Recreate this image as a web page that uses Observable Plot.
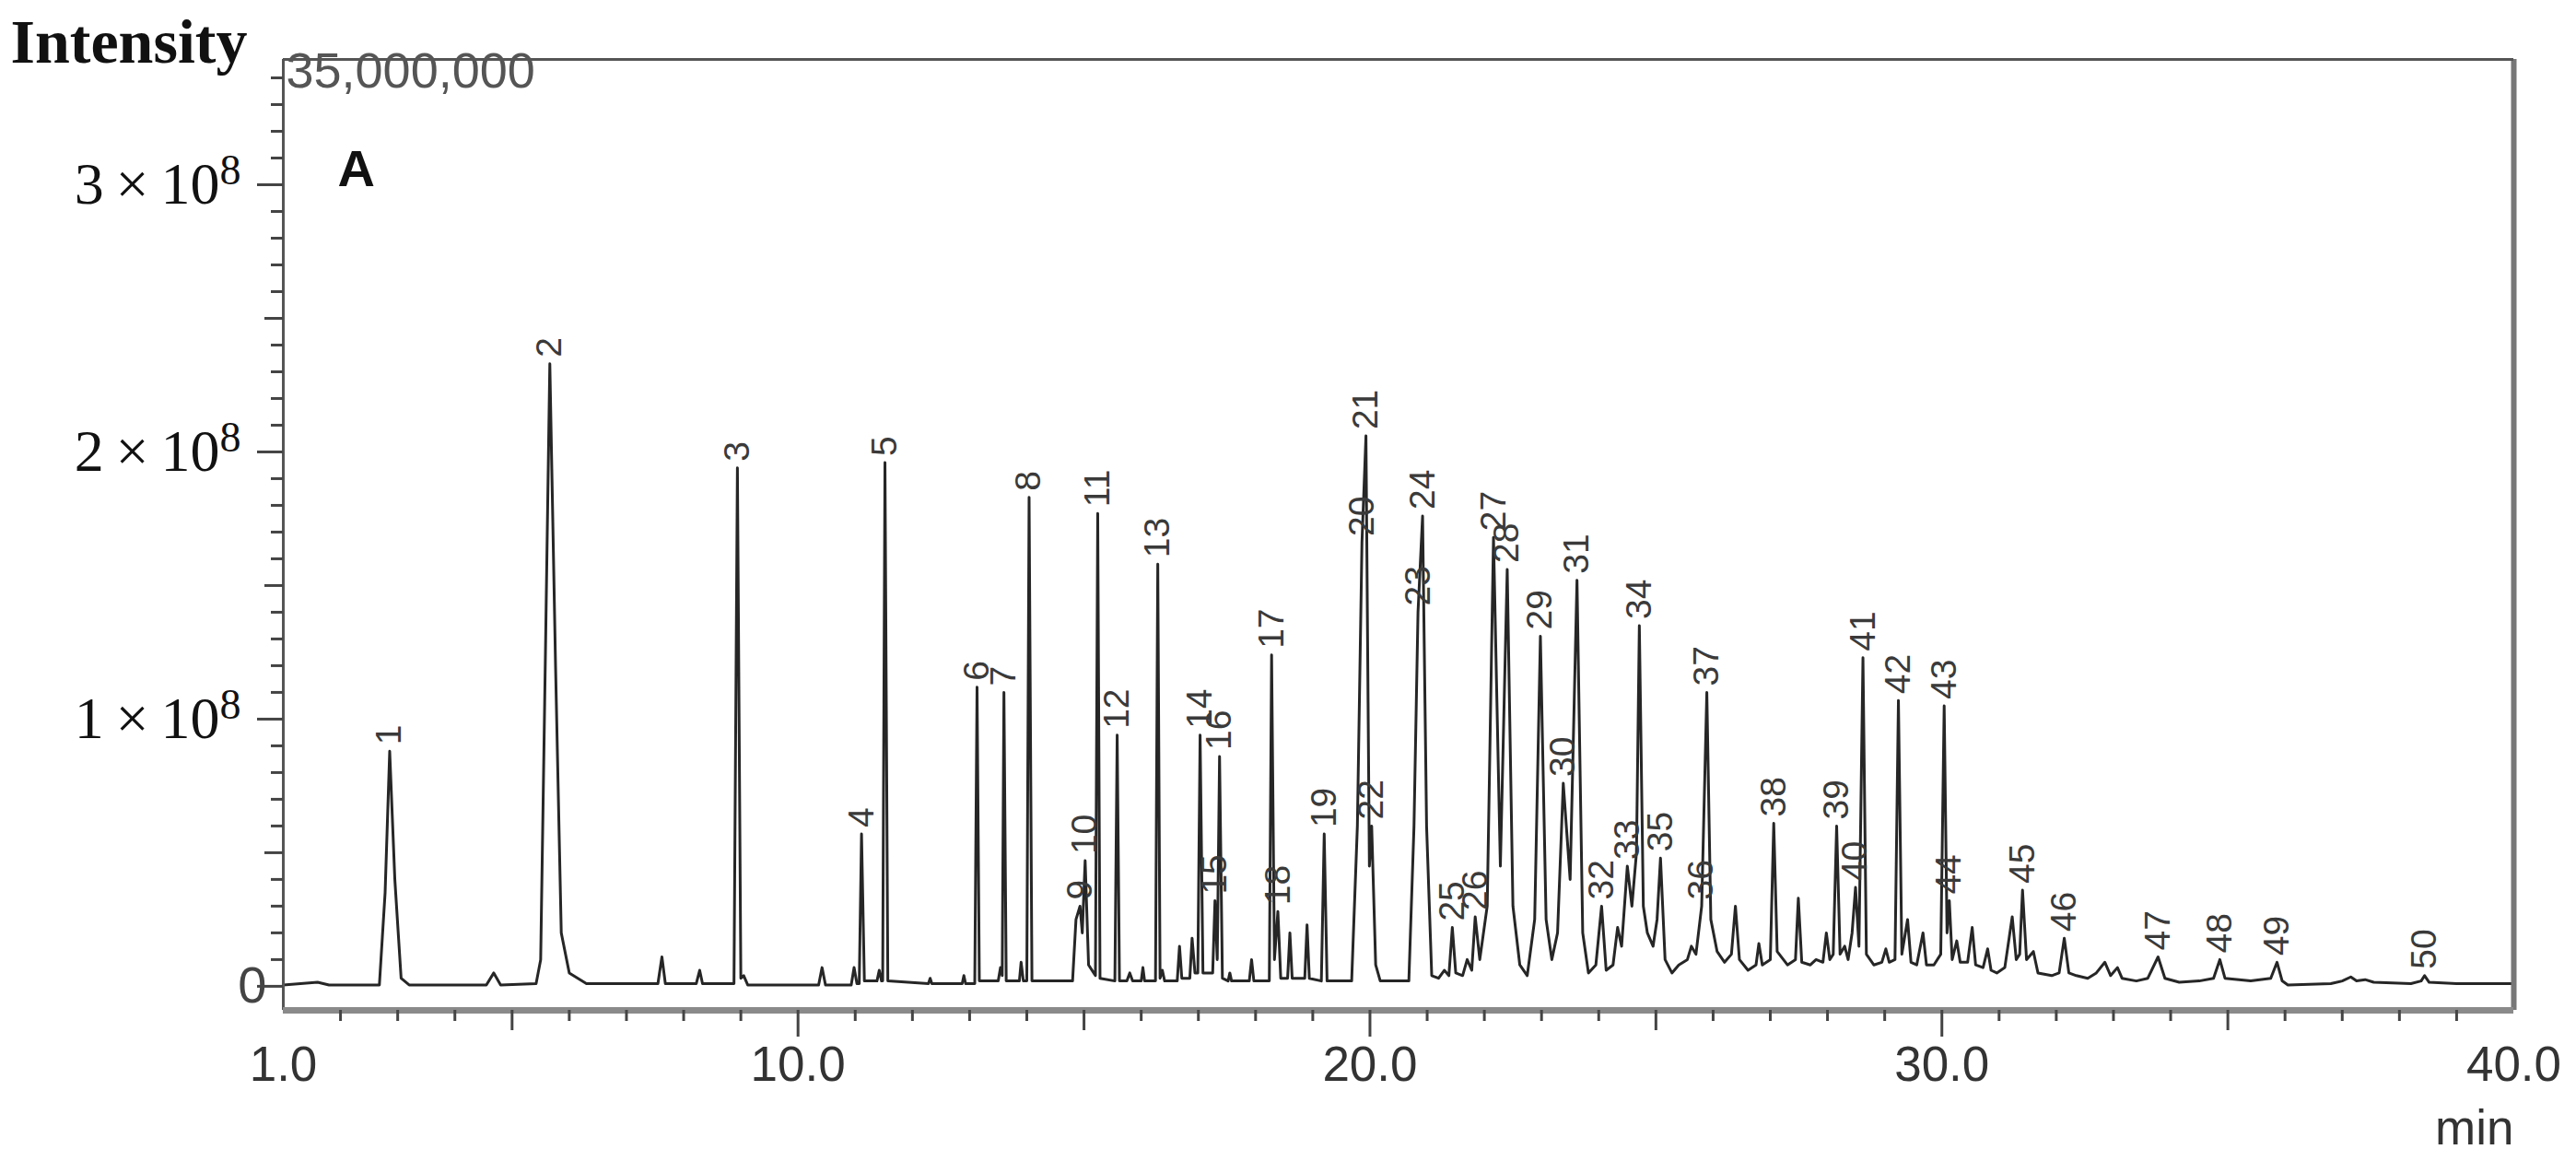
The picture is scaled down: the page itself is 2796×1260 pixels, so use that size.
<!DOCTYPE html>
<html>
<head>
<meta charset="utf-8">
<script src="https://cdn.jsdelivr.net/npm/d3@7"></script>
<script src="https://cdn.jsdelivr.net/npm/@observablehq/plot@0.6"></script>
<style>
  html, body { margin: 0; padding: 0; background: #fff; }
  #chart { width: 2796px; height: 1260px; }
</style>
</head>
<body>
<div id="chart"></div>
<script>
// ---- chromatogram trace (retention time in min, intensity in units of 10^8) ----
const traceTime = [
  1.00, 1.30, 1.60, 1.80, 2.68, 2.78, 2.86, 2.95, 3.06, 3.20,
  4.55, 4.68, 4.80, 5.42, 5.50, 5.58, 5.66, 5.76, 5.86, 6.00, 6.30,
  7.55, 7.62, 7.68, 8.22, 8.28, 8.33, 8.88, 8.94, 9.00, 9.05, 9.12,
  10.36, 10.42, 10.48, 10.93, 10.98, 11.03, 11.07, 11.11, 11.16,
  11.38, 11.42, 11.46, 11.48, 11.52, 11.57, 12.28, 12.31, 12.34,
  12.87, 12.90, 12.93, 13.09, 13.13, 13.17, 13.50, 13.54, 13.57, 13.60, 13.64,
  13.87, 13.90, 13.94, 14.00, 14.04, 14.09,
  14.80, 14.86, 14.93, 14.97, 15.02, 15.08, 15.17, 15.20, 15.24, 15.28,
  15.54, 15.58, 15.62, 15.75, 15.80, 15.85, 16.00, 16.03, 16.06,
  16.25, 16.29, 16.33, 16.37, 16.41, 16.63, 16.67, 16.71,
  16.85, 16.89, 16.94, 16.99, 17.03, 17.08,
  17.25, 17.29, 17.33, 17.37, 17.42, 17.52, 17.55, 17.58,
  17.89, 17.93, 17.97, 18.24, 18.28, 18.33, 18.39, 18.44,
  18.56, 18.60, 18.64, 18.86, 18.90, 18.94, 19.15, 19.20, 19.25,
  19.68, 19.78, 19.86, 19.93, 19.99, 20.03, 20.10, 20.18,
  20.68, 20.77, 20.84, 20.92, 20.99, 21.08,
  21.20, 21.30, 21.38, 21.44, 21.50, 21.62, 21.70, 21.78, 21.84, 21.92,
  22.05, 22.16, 22.28, 22.40, 22.50, 22.62,
  22.75, 22.88, 22.98, 23.08, 23.18, 23.28, 23.38, 23.50, 23.62, 23.72, 23.82,
  23.95, 24.05, 24.13, 24.25, 24.33, 24.40, 24.50, 24.58, 24.66, 24.71, 24.78,
  24.85, 24.95, 25.02, 25.08, 25.16, 25.28,
  25.40, 25.55, 25.62, 25.70, 25.80, 25.89, 25.96, 26.07, 26.20, 26.32, 26.39, 26.46,
  26.61, 26.75, 26.80, 26.86, 27.00, 27.06, 27.12, 27.30, 27.44, 27.49, 27.55,
  27.70, 27.80, 27.92, 27.98, 28.04, 28.10, 28.16, 28.22, 28.30, 28.36, 28.43, 28.49,
  28.55, 28.62, 28.68, 28.81, 28.95, 29.02, 29.08, 29.18, 29.24, 29.30, 29.40, 29.46,
  29.56, 29.67, 29.73, 29.86, 29.98, 30.04, 30.09, 30.13, 30.18, 30.26, 30.32,
  30.45, 30.53, 30.59, 30.72, 30.80, 30.86, 30.96, 31.10, 31.23, 31.30, 31.36, 31.41,
  31.48, 31.60, 31.68, 31.92, 32.05, 32.14, 32.22, 32.35, 32.55, 32.70, 32.85, 32.95,
  33.07, 33.15, 33.40, 33.60, 33.78, 33.90, 34.15, 34.50, 34.75, 34.86, 34.95,
  35.40, 35.75, 35.86, 35.95, 36.05, 36.80, 37.00, 37.15, 37.25, 37.40, 37.55,
  38.20, 38.38, 38.44, 38.52, 39.00, 40.00
];
const traceIntensity = [
  0.005, 0.010, 0.015, 0.005, 0.005, 0.35, 0.88, 0.40, 0.03, 0.005,
  0.005, 0.05, 0.005, 0.01, 0.10, 1.20, 2.33, 1.20, 0.20, 0.05, 0.01,
  0.01, 0.11, 0.01, 0.01, 0.06, 0.01, 0.01, 1.94, 0.03, 0.04, 0.005,
  0.005, 0.07, 0.005, 0.005, 0.07, 0.01, 0.01, 0.57, 0.02,
  0.02, 0.06, 0.02, 0.02, 1.96, 0.02, 0.01, 0.03, 0.01,
  0.01, 0.04, 0.01, 0.01, 1.12, 0.02, 0.02, 0.07, 0.04, 1.10, 0.02,
  0.02, 0.09, 0.02, 0.02, 1.83, 0.02,
  0.02, 0.25, 0.30, 0.20, 0.47, 0.08, 0.05, 0.04, 1.77, 0.03,
  0.02, 0.94, 0.02, 0.02, 0.05, 0.02, 0.02, 0.07, 0.02,
  0.02, 1.58, 0.03, 0.06, 0.02, 0.02, 0.15, 0.03,
  0.03, 0.18, 0.05, 0.05, 0.94, 0.05,
  0.05, 0.32, 0.10, 0.86, 0.03, 0.02, 0.05, 0.02,
  0.02, 0.10, 0.02, 0.02, 1.24, 0.10, 0.28, 0.03,
  0.03, 0.20, 0.03, 0.03, 0.23, 0.03, 0.02, 0.57, 0.02,
  0.02, 0.60, 1.66, 2.06, 0.45, 0.60, 0.08, 0.02,
  0.02, 0.60, 1.40, 1.76, 0.60, 0.04,
  0.03, 0.06, 0.04, 0.22, 0.05, 0.04, 0.10, 0.06, 0.26, 0.10,
  0.30, 1.68, 0.45, 1.56, 0.30, 0.08,
  0.04, 0.25, 1.31, 0.25, 0.10, 0.20, 0.76, 0.40, 1.52, 0.20, 0.05,
  0.08, 0.30, 0.06, 0.08, 0.22, 0.15, 0.45, 0.30, 0.50, 1.35, 0.30,
  0.20, 0.15, 0.25, 0.48, 0.10, 0.05,
  0.08, 0.10, 0.15, 0.12, 0.30, 1.10, 0.25, 0.13, 0.09, 0.12, 0.30, 0.10,
  0.06, 0.08, 0.16, 0.08, 0.10, 0.61, 0.13, 0.08, 0.10, 0.33, 0.09,
  0.08, 0.10, 0.09, 0.20, 0.10, 0.12, 0.60, 0.12, 0.15, 0.10, 0.20, 0.37,
  0.15, 1.23, 0.12, 0.08, 0.09, 0.14, 0.09, 0.10, 1.07, 0.12, 0.25, 0.09,
  0.08, 0.20, 0.08, 0.08, 0.12, 1.05, 0.20, 0.32, 0.10, 0.17, 0.09,
  0.09, 0.22, 0.08, 0.07, 0.14, 0.06, 0.05, 0.07, 0.26, 0.10, 0.12, 0.36,
  0.10, 0.13, 0.05, 0.04, 0.05, 0.18, 0.05, 0.04, 0.03, 0.05, 0.09, 0.04,
  0.07, 0.03, 0.02, 0.03, 0.11, 0.03, 0.015, 0.02, 0.03, 0.10, 0.03,
  0.02, 0.03, 0.09, 0.02, 0.005, 0.01, 0.02, 0.035, 0.02, 0.025, 0.015,
  0.01, 0.02, 0.04, 0.015, 0.01, 0.01
];

// ---- numbered peaks ----
const peakNumber = [
  1, 2, 3, 4, 5, 6, 7, 8, 9, 10,
  11, 12, 13, 14, 15, 16, 17, 18, 19, 20,
  21, 22, 23, 24, 25, 26, 27, 28, 29, 30,
  31, 32, 33, 34, 35, 36, 37, 38, 39, 40,
  41, 42, 43, 44, 45, 46, 47, 48, 49, 50
];
const peakTime = [
  2.86, 5.66, 8.94, 11.11, 11.52, 13.13, 13.60, 14.04, 14.93, 15.02,
  15.24, 15.58, 16.29, 17.03, 17.29, 17.37, 18.28, 18.39, 19.20, 19.86,
  19.93, 20.03, 20.84, 20.92, 21.44, 21.84, 22.16, 22.40, 22.98, 23.38,
  23.62, 24.05, 24.50, 24.71, 25.08, 25.80, 25.89, 27.06, 28.16, 28.49,
  28.62, 29.24, 30.04, 30.13, 31.41, 32.14, 33.78, 34.86, 35.86, 38.44
];
const peakIntensity = [
  0.88, 2.33, 1.94, 0.57, 1.96, 1.12, 1.10, 1.83, 0.30, 0.47,
  1.77, 0.94, 1.58, 0.94, 0.32, 0.86, 1.24, 0.28, 0.57, 1.66,
  2.06, 0.60, 1.40, 1.76, 0.22, 0.26, 1.68, 1.56, 1.31, 0.76,
  1.52, 0.30, 0.45, 1.35, 0.48, 0.30, 1.10, 0.61, 0.60, 0.37,
  1.23, 1.07, 1.05, 0.32, 0.36, 0.18, 0.11, 0.10, 0.09, 0.04
];

// ---- axes ----
const xLabelValues = [1, 10, 20, 30, 40];
const xLabels = ["1.0", "10.0", "20.0", "30.0", "40.0"];
const xMajorTicks = [10, 20, 30];
const xMidTicks = [5, 15, 25, 35];
const xMinorTicks = d3.range(2, 40).filter(v => v % 5 !== 0);
const yLabelValues = [1, 2, 3];
const yLabelMantissa = ["1", "2", "3"];
const yZero = [0];
const yMajorTicks = [0, 1, 2, 3];
const yMidTicks = [0.5, 1.5, 2.5];
const yMinorTicks = d3.range(1, 35).map(v => v / 10).filter(v => Math.abs(v * 2 - Math.round(v * 2)) > 1e-9);
const yTop = 3.469, yBottom = -0.09;

// ---- annotation texts ----
const titleText = ["Intensity"];
const scaleText = ["35,000,000"];
const panelText = ["A"];
const unitText = ["min"];

const sans = "'Liberation Sans', Arial, sans-serif";
const serif = "'Liberation Serif', 'Times New Roman', serif";

const chart = Plot.plot({
  width: 2796,
  height: 1260,
  marginLeft: 307,
  marginRight: 68,
  marginTop: 64,
  marginBottom: 164,
  style: { fontFamily: sans, background: "#fff", overflow: "visible" },
  x: { domain: [1, 40] },
  y: { domain: [yBottom, yTop] },
  marks: [
    // trace
    Plot.line(traceTime, { x: traceTime, y: traceIntensity, stroke: "#262626", strokeWidth: 3, curve: "linear" }),
    // peak numbers (rotated, reading bottom to top)
    Plot.text(peakNumber, {
      x: peakTime, y: peakIntensity, text: d => String(d),
      rotate: -90, textAnchor: "start", lineAnchor: "middle", dy: -7,
      fontSize: 39, fontFamily: sans, fill: "#3a3a3a"
    }),
    // frame
    Plot.ruleX([1], { stroke: "#555", strokeWidth: 3 }),
    Plot.ruleX([40], { stroke: "#777", strokeWidth: 6 }),
    Plot.ruleY([yTop], { stroke: "#555", strokeWidth: 3 }),
    Plot.ruleY([yBottom], { stroke: "#8a8a8a", strokeWidth: 7 }),
    // x ticks
    Plot.axisX(xMinorTicks, { anchor: "bottom", tickSize: 12, tickFormat: () => "", stroke: "#444", strokeWidth: 3 }),
    Plot.axisX(xMidTicks, { anchor: "bottom", tickSize: 22, tickFormat: () => "", stroke: "#444", strokeWidth: 3 }),
    Plot.axisX(xMajorTicks, { anchor: "bottom", tickSize: 29, tickFormat: () => "", stroke: "#444", strokeWidth: 3 }),
    Plot.axisX(xLabelValues, {
      anchor: "bottom", tickSize: 0, tickPadding: 39,
      tickFormat: (d) => xLabels[xLabelValues.indexOf(d)],
      fontSize: 53, fontFamily: sans, fill: "#333", label: null
    }),
    // y ticks
    Plot.axisY(yMinorTicks, { anchor: "left", tickSize: 13, tickFormat: () => "", stroke: "#444", strokeWidth: 3 }),
    Plot.axisY(yMidTicks, { anchor: "left", tickSize: 20, tickFormat: () => "", stroke: "#444", strokeWidth: 3 }),
    Plot.axisY(yMajorTicks, { anchor: "left", tickSize: 28, tickFormat: () => "", stroke: "#444", strokeWidth: 3 }),
    Plot.axisY(yZero, {
      anchor: "left", tickSize: 0, tickPadding: 18, tickFormat: () => "0",
      fontSize: 56, fontFamily: sans, fill: "#444", label: null
    }),
    Plot.axisY(yLabelValues, {
      anchor: "left", tickSize: 0, tickPadding: 46,
      tickFormat: (d) => yLabelMantissa[yLabelValues.indexOf(d)] + "\u2009×\u200910^8",
      fontSize: 64, fontFamily: serif, fill: "#111", label: null
    }),
    // annotations
    Plot.text(titleText, { frameAnchor: "top-left", text: d => d, dx: -296, dy: -18, textAnchor: "start", lineAnchor: "middle",
      fontSize: 68, fontWeight: "bold", fontFamily: serif, fill: "#111" }),
    Plot.text(scaleText, { frameAnchor: "top-left", text: d => d, dx: 3, dy: 13, textAnchor: "start", lineAnchor: "middle",
      fontSize: 54, fontFamily: sans, fill: "#555" }),
    Plot.text(panelText, { frameAnchor: "top-left", text: d => d, dx: 59, dy: 120, textAnchor: "start", lineAnchor: "middle",
      fontSize: 56, fontWeight: "bold", fontFamily: sans, fill: "#111" }),
    Plot.text(unitText, { frameAnchor: "bottom-right", text: d => d, dx: 0, dy: 129, textAnchor: "end", lineAnchor: "middle",
      fontSize: 53, fontFamily: sans, fill: "#333" })
  ]
});

// superscript exponents on the y labels
d3.select(chart).selectAll("text").each(function () {
  const t = this.textContent;
  if (t.includes("10^")) {
    const [base, exp] = t.split("^");
    const sel = d3.select(this);
    sel.text(null);
    sel.append("tspan").text(base);
    sel.append("tspan").attr("font-size", "0.72em").attr("dy", "-0.45em").text(exp);
  }
});

document.getElementById("chart").appendChild(chart);
</script>
</body>
</html>
